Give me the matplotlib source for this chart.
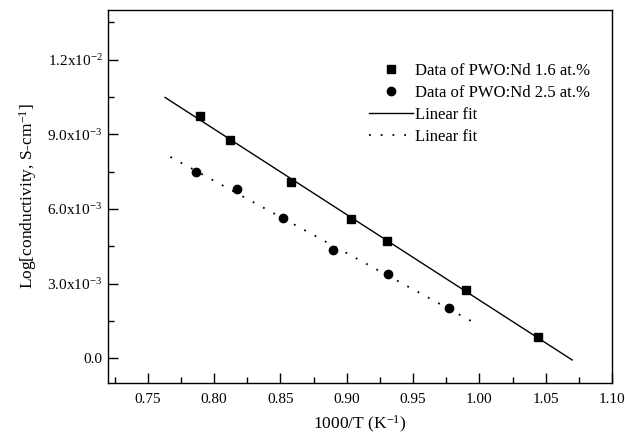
import numpy as np
import matplotlib
matplotlib.use("Agg")
import matplotlib.pyplot as plt
from matplotlib.ticker import MultipleLocator, FixedLocator, FixedFormatter

plt.rcParams['font.family'] = ['Liberation Serif', 'DejaVu Serif']
plt.rcParams['mathtext.fontset'] = 'custom'
plt.rcParams['mathtext.rm'] = 'Liberation Serif'
plt.rcParams['mathtext.it'] = 'Liberation Serif:italic'

# Data
x_16 = [0.789, 0.812, 0.858, 0.903, 0.930, 0.990, 1.044]
y_16 = [9.73e-3, 8.78e-3, 7.10e-3, 5.60e-3, 4.72e-3, 2.72e-3, 0.86e-3]
x_25 = [0.786, 0.817, 0.852, 0.890, 0.931, 0.977]
y_25 = [7.47e-3, 6.79e-3, 5.62e-3, 4.35e-3, 3.38e-3, 2.00e-3]
fit_range_16 = [0.763, 1.070]
fit_range_25 = [0.767, 0.994]

xticks = [0.75, 0.80, 0.85, 0.90, 0.95, 1.00, 1.05, 1.10]
yticks = [0.0, 3.0e-3, 6.0e-3, 9.0e-3, 1.2e-2]
ytick_labels = ['0.0', r'3.0x10$^{-3}$', r'6.0x10$^{-3}$', r'9.0x10$^{-3}$', r'1.2x10$^{-2}$']

fig = plt.figure(figsize=(6.25, 4.4), dpi=100)
ax = fig.add_axes([108/625, 1 - 383/440, (612-108)/625, (383-10)/440])

p16 = np.polyfit(x_16, y_16, 1)
p25 = np.polyfit(x_25, y_25, 1)
xf16 = np.array(fit_range_16)
xf25 = np.array(fit_range_25)

ax.plot(x_16, y_16, 's', color='black', ms=5.5, label='Data of PWO:Nd 1.6 at.%')
ax.plot(x_25, y_25, 'o', color='black', ms=6, label='Data of PWO:Nd 2.5 at.%')
ax.plot(xf16, np.polyval(p16, xf16), '-', color='black', lw=1.0, label='Linear fit')
ax.plot(xf25, np.polyval(p25, xf25), color='black', lw=1.3, linestyle=(0, (1, 5.5)), label='Linear fit')

ax.set_xlim(0.72, 1.10)
ax.set_ylim(-1.0e-3, 1.4e-2)
ax.xaxis.set_major_locator(FixedLocator(xticks))
ax.xaxis.set_major_formatter(FixedFormatter([f'{v:.2f}' for v in xticks]))
ax.xaxis.set_minor_locator(MultipleLocator(0.025))
ax.yaxis.set_major_locator(FixedLocator(yticks))
ax.yaxis.set_major_formatter(FixedFormatter(ytick_labels))
ax.yaxis.set_minor_locator(MultipleLocator(1.5e-3))

ax.tick_params(which='both', direction='in', top=False, right=False, labelsize=11)
ax.tick_params(which='major', length=7, width=1)
ax.tick_params(which='minor', length=4, width=1)
ax.tick_params(axis='x', pad=7)
ax.tick_params(axis='y', pad=4)
for s in ax.spines.values():
    s.set_linewidth(1.0)

ax.set_xlabel(r'1000/T (K$^{-1}$)', fontsize=12.5, labelpad=6)
ax.set_ylabel(r'Log[conductivity, S-cm$^{-1}$]', fontsize=12.5, labelpad=6)

leg = ax.legend(loc='upper left', bbox_to_anchor=(0.505, 0.875), frameon=False,
                fontsize=12, handlelength=2.6, handletextpad=0.15,
                labelspacing=0.35, borderaxespad=0)

fig.savefig('out.png', dpi=100)
